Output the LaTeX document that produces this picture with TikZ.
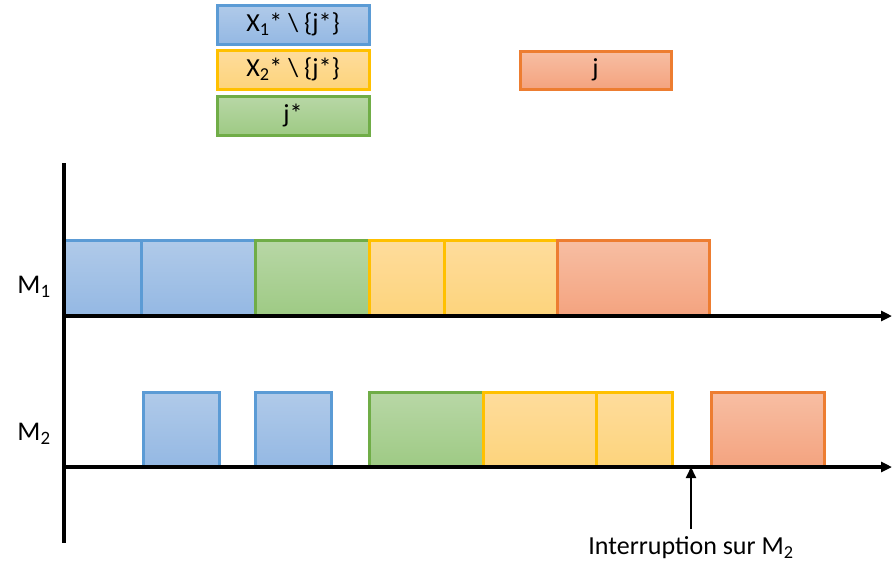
\documentclass[tikz,border=0pt]{standalone}
\usepackage{fontspec}
\setmainfont{Carlito}
\usetikzlibrary{arrows.meta}
\definecolor{bS}{RGB}{91,155,213}
\definecolor{bT}{RGB}{176,202,233}
\definecolor{bB}{RGB}{148,184,227}
\definecolor{gS}{RGB}{112,173,71}
\definecolor{gT}{RGB}{184,215,166}
\definecolor{gB}{RGB}{158,202,132}
\definecolor{yS}{RGB}{255,192,0}
\definecolor{yT}{RGB}{254,220,156}
\definecolor{yB}{RGB}{253,212,124}
\definecolor{oS}{RGB}{237,125,49}
\definecolor{oT}{RGB}{247,190,163}
\definecolor{oB}{RGB}{244,163,127}
\tikzset{
  box/.style={rectangle, anchor=north west, inner sep=0pt, outer sep=0pt, line width=3pt, font=\fontsize{26}{28}\selectfont},
  bluebox/.style={box, draw=bS, top color=bT, bottom color=bB},
  greenbox/.style={box, draw=gS, top color=gT, bottom color=gB},
  yellowbox/.style={box, draw=yS, top color=yT, bottom color=yB},
  orangebox/.style={box, draw=oS, top color=oT, bottom color=oB},
  axis/.style={line width=3.2pt, black},
  arr/.style={-{Triangle[length=11pt,width=10pt]}},
  lbl/.style={font=\fontsize{27}{29}\selectfont}
}
\newcommand{\bx}[6]{\node (#1) [#2, minimum width=#5pt, minimum height=#6pt] at (#3,#4) {};}
\begin{document}
\begin{tikzpicture}[x=1pt,y=-1pt]
\useasboundingbox (0,0) rectangle (892,566);
% legend
\node (L1) [bluebox, minimum width=152pt, minimum height=39pt] at (217,5) {X\textsubscript{1}* \textbackslash{} \{j*\}};
\node (L2) [yellowbox, minimum width=152pt, minimum height=39pt] at (217,50) {X\textsubscript{2}* \textbackslash{} \{j*\}};
\node (L3) [greenbox, minimum width=152pt, minimum height=39pt] at (217,96) {j*};
\node (L4) [orangebox, minimum width=151pt, minimum height=38pt] at (520,51) {j};
% M1 bars
\bx{a1}{bluebox}{64}{240}{77}{76}
\bx{a2}{bluebox}{141}{240}{114}{76}
\bx{a3}{greenbox}{255}{240}{114}{76}
\bx{a4}{yellowbox}{369}{240}{75}{76}
\bx{a5}{yellowbox}{444}{240}{113}{76}
\bx{a6}{orangebox}{557}{240}{152}{76}
% M2 bars
\bx{b1}{bluebox}{143}{392}{76}{75}
\bx{b2}{bluebox}{255}{392}{76}{75}
\bx{b3}{greenbox}{369}{392}{114}{75}
\bx{b4}{yellowbox}{483}{392}{113}{75}
\bx{b5}{yellowbox}{596}{392}{76}{75}
\bx{b6}{orangebox}{711}{392}{113}{75}
% axes
\coordinate (vt) at (64,163);
\coordinate (vb) at (64,543);
\coordinate (h1s) at (64,316);
\coordinate (h1e) at (892,316);
\coordinate (h2s) at (64,467);
\coordinate (h2e) at (892,467);
\draw[axis] (vt) -- (vb);
\draw[axis, arr] (h1s) -- (h1e);
\draw[axis, arr] (h2s) -- (h2e);
% labels
\node (m1) [lbl] at (34,287) {M\textsubscript{1}};
\node (m2) [lbl] at (34,434) {M\textsubscript{2}};
% interruption
\node (int) [font=\fontsize{26}{28}\selectfont] at (691,548) {Interruption sur M\textsubscript{2}};
\coordinate (ip) at (691,467);
\draw[line width=2pt, arr] (691,529) -- (ip);
\end{tikzpicture}
\end{document}
